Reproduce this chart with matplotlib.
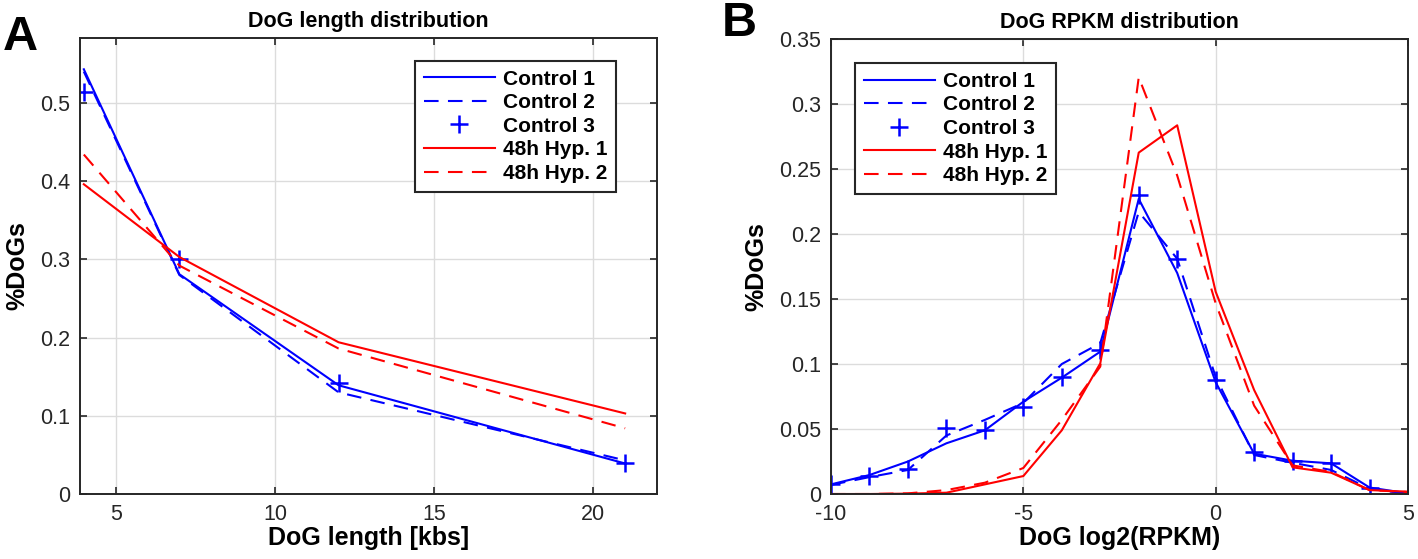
import matplotlib
matplotlib.use("Agg")
import matplotlib.pyplot as plt
import numpy as np

plt.rcParams['font.family'] = ['Liberation Sans', 'DejaVu Sans']
plt.rcParams['axes.unicode_minus'] = False

# ---- Panel A data ----
len_x = [4, 7, 12, 21]
len_ctrl1 = [0.543, 0.281, 0.139, 0.039]
len_ctrl2 = [0.540, 0.280, 0.130, 0.043]
len_ctrl3 = [0.514, 0.301, 0.142, 0.039]
len_hyp1 = [0.396, 0.303, 0.194, 0.103]
len_hyp2 = [0.434, 0.292, 0.186, 0.084]

# ---- Panel B data ----
rpkm_x = [-10, -9, -8, -7, -6, -5, -4, -3, -2, -1, 0, 1, 2, 3, 4, 5]
rpkm_ctrl1 = [0.0074, 0.0146, 0.025, 0.039, 0.049, 0.071, 0.0895, 0.1095, 0.227, 0.170, 0.086, 0.031, 0.0256, 0.0236, 0.005, 0.0005]
rpkm_ctrl2 = [0.007, 0.013, 0.0185, 0.045, 0.057, 0.070, 0.100, 0.116, 0.217, 0.181, 0.090, 0.030, 0.024, 0.0185, 0.004, 0.0]
rpkm_ctrl3 = [0.0074, 0.014, 0.019, 0.051, 0.049, 0.067, 0.090, 0.111, 0.230, 0.181, 0.088, 0.032, 0.0256, 0.024, 0.0044, 0.0]
rpkm_hyp1 = [0.0, 0.0, 0.0003, 0.001, 0.0074, 0.0138, 0.049, 0.1005, 0.2626, 0.2836, 0.1556, 0.080, 0.0205, 0.0164, 0.003, 0.0018]
rpkm_hyp2 = [0.0, 0.0, 0.0005, 0.003, 0.0087, 0.020, 0.057, 0.098, 0.3205, 0.245, 0.1467, 0.068, 0.022, 0.017, 0.003, 0.0015]

labels = ['Control 1', 'Control 2', 'Control 3', '48h Hyp. 1', '48h Hyp. 2']
len_xticks = [5, 10, 15, 20]
len_yticks = [0, 0.1, 0.2, 0.3, 0.4, 0.5]
len_yticklabels = ['0', '0.1', '0.2', '0.3', '0.4', '0.5']
rpkm_xticks = [-10, -5, 0, 5]
rpkm_xticklabels = ['-10', '-5', '0', '5']
rpkm_yticks = [0, 0.05, 0.1, 0.15, 0.2, 0.25, 0.3, 0.35]
rpkm_yticklabels = ['0', '0.05', '0.1', '0.15', '0.2', '0.25', '0.3', '0.35']

W, H = 1418, 559
fig = plt.figure(figsize=(W / 100, H / 100), dpi=100)

BLUE = '#0000ff'
RED = '#ff0000'
LW = 1.5
DASH = (0, (7, 4.5))


def frac(x0, y0, x1, y1):
    return [x0 / W, 1 - y1 / H, (x1 - x0) / W, (y1 - y0) / H]


def draw(ax, x, c1, c2, c3, h1, h2):
    ax.plot(x, c1, color=BLUE, lw=LW, ls='-', label=labels[0])
    ax.plot(x, c2, color=BLUE, lw=LW, ls=DASH, label=labels[1])
    ax.plot(x, c3, color=BLUE, lw=0, marker='+', ms=13, mew=1.8, label=labels[2])
    ax.plot(x, h1, color=RED, lw=LW, ls='-', label=labels[3])
    ax.plot(x, h2, color=RED, lw=LW, ls=DASH, label=labels[4])


def style(ax):
    ax.grid(True, color='#dcdcdc', lw=1.0)
    ax.set_axisbelow(True)
    for s in ax.spines.values():
        s.set_color('#262626')
        s.set_linewidth(1.4)
    ax.tick_params(direction='in', top=True, right=True, length=5, width=1.2,
                   color='#262626', labelsize=15.5, pad=7, labelcolor='#262626')


def legend(ax, bbox):
    leg = ax.legend(loc='upper left', bbox_to_anchor=bbox,
                    prop={'weight': 'bold', 'size': 15}, frameon=True,
                    fancybox=False, framealpha=1, edgecolor='#262626',
                    handlelength=3.4, handletextpad=0.4, labelspacing=0.22,
                    borderpad=0.42, borderaxespad=0)
    leg.get_frame().set_linewidth(1.5)
    return leg


# Panel A
axA = fig.add_axes(frac(80, 38, 657, 494))
draw(axA, len_x, len_ctrl1, len_ctrl2, len_ctrl3, len_hyp1, len_hyp2)
axA.set_xlim(3.88, 22.0)
axA.set_ylim(0, 0.583)
axA.set_xticks(len_xticks)
axA.set_yticks(len_yticks)
axA.set_yticklabels(len_yticklabels)
style(axA)
axA.set_title('DoG length distribution', fontsize=15.5, fontweight='bold', pad=8)
axA.set_xlabel('DoG length [kbs]', fontsize=18, fontweight='bold', labelpad=1)
axA.set_ylabel('%DoGs', fontsize=18, fontweight='bold', labelpad=8)
legend(axA, (0.581, 0.950))

# Panel B
axB = fig.add_axes(frac(831, 39, 1408, 494))
draw(axB, rpkm_x, rpkm_ctrl1, rpkm_ctrl2, rpkm_ctrl3, rpkm_hyp1, rpkm_hyp2)
axB.set_xlim(-10, 5)
axB.set_ylim(0, 0.35)
axB.set_xticks(rpkm_xticks)
axB.set_xticklabels(rpkm_xticklabels)
axB.set_yticks(rpkm_yticks)
axB.set_yticklabels(rpkm_yticklabels)
style(axB)
axB.set_title('DoG RPKM distribution', fontsize=15.5, fontweight='bold', pad=8)
axB.set_xlabel('DoG log2(RPKM)', fontsize=18, fontweight='bold', labelpad=1)
axB.set_ylabel('%DoGs', fontsize=18, fontweight='bold', labelpad=8)
legend(axB, (0.042, 0.947))

fig.text(3 / W, 1 - 50 / H, 'A', fontsize=35, fontweight='bold', va='baseline')
fig.text(722 / W, 1 - 36 / H, 'B', fontsize=35, fontweight='bold', va='baseline')

fig.savefig('out.png', dpi=100)
